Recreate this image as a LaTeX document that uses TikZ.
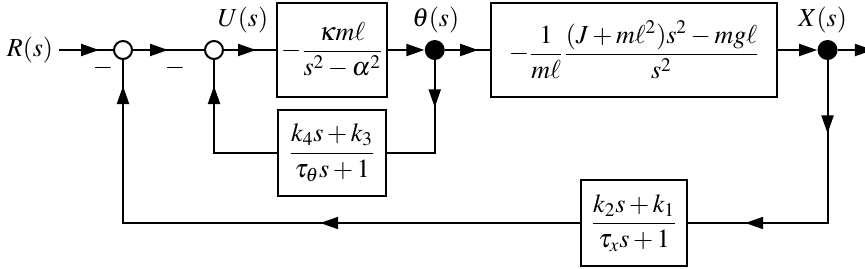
\documentclass[tikz,border=0pt]{standalone}
\usepackage{amsmath}
\usepackage{mathptmx}
\usepackage{tikz}
\usetikzlibrary{
    arrows.meta,
    positioning,
    decorations.markings
}
\tikzset{
  block/.style   = {draw, line width=1pt, minimum height=47pt, inner sep=2pt},
  fblock/.style  = {draw, line width=1pt, minimum width=54pt,
                    minimum height=43pt, inner sep=2pt},
  sumnode/.style = {draw, circle, fill=white, line width=1pt,
                    minimum size=9pt, inner sep=0pt},
  dotnode/.style = {circle, fill=black, minimum size=10pt, inner sep=0pt},
  sig/.style     = {line width=1pt},
  arr/.style     = {sig, -{Triangle[length=9pt,width=6pt]}},
  marr/.style    = {sig, postaction=decorate, decoration={markings,
                    mark=at position #1 with {\arrow{Triangle[length=9pt,width=6pt]}}}},
  marrtwo/.style 2 args = {sig, postaction=decorate, decoration={markings,
                    mark=at position #1 with {\arrow{Triangle[length=9pt,width=6pt]}},
                    mark=at position #2 with {\arrow{Triangle[length=9pt,width=6pt]}}}}
}

\begin{document}
\begin{tikzpicture}[every node/.style={font=\fontsize{13}{15}\selectfont}]
\useasboundingbox (0,0) rectangle (432.5pt,-134pt);
% forward path
\node[inner sep=3pt] (R) at (15pt,-25pt) {$R(s)$};
\node[sumnode] (s1) at (61.5pt,-25pt) {};
\node[sumnode, right=35.5pt of s1] (s2) {};
\node[block, minimum width=54pt, right=26pt of s2] (G1) {$-\dfrac{\kappa m\ell}{s^2-\alpha^2}$};
\node[dotnode, right=18pt of G1] (th) {};
\node[block, minimum width=143pt, right=22.5pt of th] (G2) {$-\dfrac{1}{m\ell}\dfrac{(J+m\ell^2)s^2-mg\ell}{s^2}$};
\node[dotnode, right=19.5pt of G2] (X) {};
\coordinate[right=17.5pt of X] (out);
% feedback blocks
\node[fblock, below=5.5pt of G1] (H1) {$\dfrac{k_4s+k_3}{\tau_\theta s+1}$};
\node[fblock, minimum width=53pt, below=40.5pt of G2] (H2) {$\dfrac{k_2s+k_1}{\tau_x s+1}$};
% labels
\node[xshift=14.5pt, yshift=15pt] (lU) at (s2) {$U(s)$};
\node[xshift=0.5pt, yshift=15pt] (lth) at (th) {$\theta(s)$};
\node[xshift=-2.5pt, yshift=15pt] (lX) at (X) {$X(s)$};
\node[xshift=-10pt, yshift=-9pt] (m1) at (s1) {$-$};
\node[xshift=-19.5pt, yshift=-9pt] (m2) at (s2) {$-$};
% connectors
\draw[marr=-7pt] (R) -- (s1);
\draw[marr=-18pt] (s1) -- (s2);
\draw[marr=-10pt] (s2) -- (G1);
\draw[arr] (G1) -- (th);
\draw[marr=-6pt] (th) -- (G2);
\draw[arr] (G2) -- (X);
\draw[arr] (X) -- (out);
\draw[marr=23.5pt] (th) |- (H1);
\draw[marr=-13pt] (H1) -| (s2);
\draw[marrtwo={36.5pt}{122.5pt}] (X) |- (H2);
\draw[marrtwo={130pt}{-13pt}] (H2) -| (s1);
\end{tikzpicture}
\end{document}
